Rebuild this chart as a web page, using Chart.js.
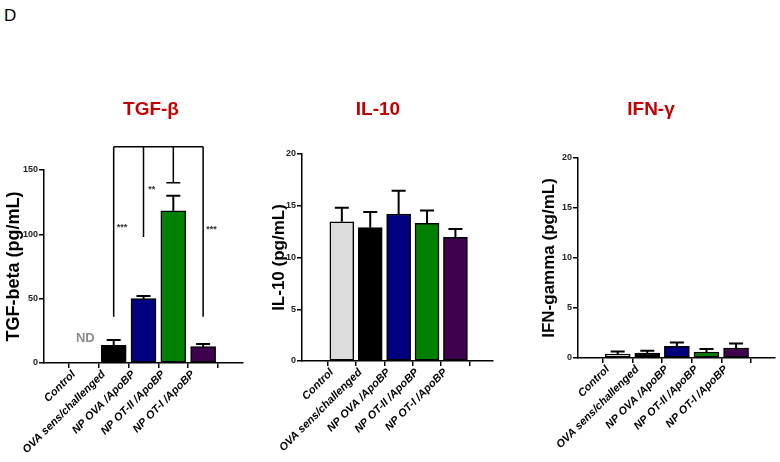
<!DOCTYPE html>
<html>
<head>
<meta charset="utf-8">
<script src="https://cdn.jsdelivr.net/npm/chart.js@4.4.0/dist/chart.umd.min.js"></script>
<style>
body { margin: 0; background: #fff; }
#wrap { position: relative; width: 780px; height: 462px; overflow: hidden; }
canvas { position: absolute; top: 0; }
#panelLetter { position: absolute; left: 4px; top: 6px; font: 17px 'Liberation Sans', Arial, sans-serif; color: #000; }
</style>
</head>
<body>
<div id="wrap">
  <div id="panelLetter">D</div>
  <canvas id="tgf" width="260" height="462" style="left:0px"></canvas>
  <canvas id="il10" width="260" height="462" style="left:260px"></canvas>
  <canvas id="ifn" width="260" height="462" style="left:520px"></canvas>
</div>
<script>
// groups on the x axis
const groups = ['Control', 'OVA sens/challenged', 'NP OVA /ApoBP', 'NP OT-II /ApoBP', 'NP OT-I /ApoBP'];

// TGF-beta (pg/mL), control not detected
const tgfMean = [null, 13.8, 50, 118.3, 12.7];
const tgfSem  = [null, 4.1, 2.0, 11.7, 2.1];
const tgfTicks = [0, 50, 100, 150];

// IL-10 (pg/mL)
const il10Mean = [13.45, 12.9, 14.2, 13.3, 11.95];
const il10Sem  = [1.35, 1.5, 2.25, 1.25, 0.8];

// IFN-gamma (pg/mL)
const ifnMean = [0.4, 0.5, 1.16, 0.6, 1.0];
const ifnSem  = [0.25, 0.22, 0.39, 0.3, 0.46];

const cytoTicks = [0, 5, 10, 15, 20];

// significance bracket on TGF-beta (groups 1..4 compared)
const sigTop = 168;
const sigDrop = [36, 98, 140, 36];
const sigStars = ['***', '**', '', '***'];
const sigStarY = [105, 135, null, 104];

const FONT = "'Liberation Sans', Arial, sans-serif";

const errorBars = {
    id: 'errorBars',
    afterDatasetsDraw(chart) {
        const ctx = chart.ctx;
        const y = chart.scales.y;
        chart.data.datasets.forEach((ds, di) => {
            chart.getDatasetMeta(di).data.forEach((bar, i) => {
                const m = ds.data[i].y;
                if (m == null) return;
                const top = y.getPixelForValue(m + ds.sem[i]);
                ctx.save();
                ctx.strokeStyle = '#000';
                ctx.lineWidth = 2;
                ctx.beginPath();
                ctx.moveTo(bar.x, bar.y);
                ctx.lineTo(bar.x, top);
                ctx.moveTo(bar.x - 7, top);
                ctx.lineTo(bar.x + 7, top);
                ctx.stroke();
                ctx.restore();
            });
        });
    }
};

const panelTitle = {
    id: 'panelTitle',
    afterDraw(chart, args, opts) {
        const ctx = chart.ctx;
        ctx.save();
        ctx.font = 'bold 19px ' + FONT;
        ctx.fillStyle = '#c40000';
        ctx.textAlign = 'center';
        ctx.textBaseline = 'middle';
        ctx.fillText(opts.text, opts.x, opts.y);
        ctx.restore();
    }
};

const tgfMarks = {
    id: 'tgfMarks',
    afterDraw(chart) {
        const ctx = chart.ctx, x = chart.scales.x, y = chart.scales.y;
        ctx.save();
        ctx.strokeStyle = '#000';
        ctx.lineWidth = 1.5;
        ctx.beginPath();
        ctx.moveTo(x.getPixelForValue(1), y.getPixelForValue(sigTop));
        ctx.lineTo(x.getPixelForValue(4), y.getPixelForValue(sigTop));
        sigDrop.forEach((v, k) => {
            const px = x.getPixelForValue(k + 1);
            ctx.moveTo(px, y.getPixelForValue(sigTop));
            ctx.lineTo(px, y.getPixelForValue(v));
            if (k === 2) {
                ctx.moveTo(px - 7, y.getPixelForValue(v));
                ctx.lineTo(px + 7, y.getPixelForValue(v));
            }
        });
        ctx.stroke();
        ctx.fillStyle = '#333';
        ctx.font = 'bold 9px ' + FONT;
        ctx.textAlign = 'center';
        ctx.textBaseline = 'middle';
        sigStars.forEach((s, k) => {
            if (!s) return;
            ctx.fillText(s, x.getPixelForValue(k + 1.28), y.getPixelForValue(sigStarY[k]));
        });
        ctx.fillStyle = '#8c8c8c';
        ctx.font = 'bold 13px ' + FONT;
        ctx.fillText('ND', x.getPixelForValue(0.05), y.getPixelForValue(19));
        ctx.restore();
    }
};

function makePanel(id, p) {
    return new Chart(document.getElementById(id), {
        type: 'bar',
        data: {
            datasets: [{
                data: p.mean.map((v, i) => ({ x: i, y: v })),
                sem: p.sem,
                backgroundColor: p.colors,
                borderColor: '#000',
                borderWidth: 1.5,
                borderSkipped: false,
                barThickness: p.barW
            }]
        },
        options: {
            responsive: false,
            animation: false,
            layout: { padding: { top: p.top, right: p.right, left: 0, bottom: 0 } },
            plugins: {
                legend: { display: false },
                tooltip: { enabled: false },
                panelTitle: { text: p.title, x: p.titleX, y: 110 }
            },
            scales: {
                x: {
                    type: 'linear',
                    min: p.xMin,
                    max: p.xMax,
                    afterBuildTicks: s => { s.ticks = groups.map((g, i) => ({ value: i })); },
                    afterFit: s => { s.height = 462 - p.bottom; },
                    ticks: {
                        callback: v => groups[v],
                        autoSkip: false,
                        minRotation: 45,
                        maxRotation: 45,
                        padding: 0,
                        labelOffset: -10,
                        color: '#000',
                        font: { family: FONT, size: 11, weight: 'bold', style: 'italic' }
                    },
                    grid: { drawOnChartArea: false, tickLength: 5, color: '#000', lineWidth: 1.5 },
                    border: { color: '#000', width: 1.5 }
                },
                y: {
                    min: 0,
                    max: p.ticks[p.ticks.length - 1],
                    afterBuildTicks: s => { s.ticks = p.ticks.map(v => ({ value: v })); },
                    afterFit: s => { s.width = p.axisX; },
                    ticks: {
                        padding: 1,
                        color: '#222',
                        font: { family: FONT, size: 9, weight: 'bold' }
                    },
                    grid: { drawOnChartArea: false, tickLength: 5, color: '#000', lineWidth: 1.5 },
                    border: { color: '#000', width: 1.5 },
                    title: {
                        display: true,
                        text: p.yTitle,
                        color: '#000',
                        padding: { top: p.titlePad, bottom: 0 },
                        font: { family: FONT, size: p.titleSize, weight: 'bold' }
                    }
                }
            }
        },
        plugins: p.extra ? [errorBars, panelTitle, p.extra] : [errorBars, panelTitle]
    });
}

makePanel('tgf', {
    mean: tgfMean, sem: tgfSem, ticks: tgfTicks,
    colors: ['#ffffff', '#000000', '#00007f', '#007f00', '#3f0050'],
    title: 'TGF-β', titleX: 151, yTitle: 'TGF-beta (pg/mL)',
    axisX: 44, right: 260 - 243, top: 170, bottom: 363,
    xMin: -0.67, xMax: 4.67, barW: 25, titlePad: 3, titleSize: 18, extra: tgfMarks
});

makePanel('il10', {
    mean: il10Mean, sem: il10Sem, ticks: cytoTicks,
    colors: ['#dcdcdc', '#000000', '#00007f', '#007f00', '#3f0050'],
    title: 'IL-10', titleX: 118, yTitle: 'IL-10 (pg/mL)',
    axisX: 42, right: 260 - 233, top: 154, bottom: 361,
    xMin: -0.73, xMax: 4.65, barW: 24, titlePad: 9, titleSize: 17
});

makePanel('ifn', {
    mean: ifnMean, sem: ifnSem, ticks: cytoTicks,
    colors: ['#ffffff', '#000000', '#00007f', '#007f00', '#3f0050'],
    title: 'IFN-γ', titleX: 131, yTitle: 'IFN-gamma (pg/mL)',
    axisX: 58, right: 260 - 255, top: 158, bottom: 358,
    xMin: -0.676, xMax: 4.65, barW: 25, titlePad: 19, titleSize: 17
});
</script>
</body>
</html>
